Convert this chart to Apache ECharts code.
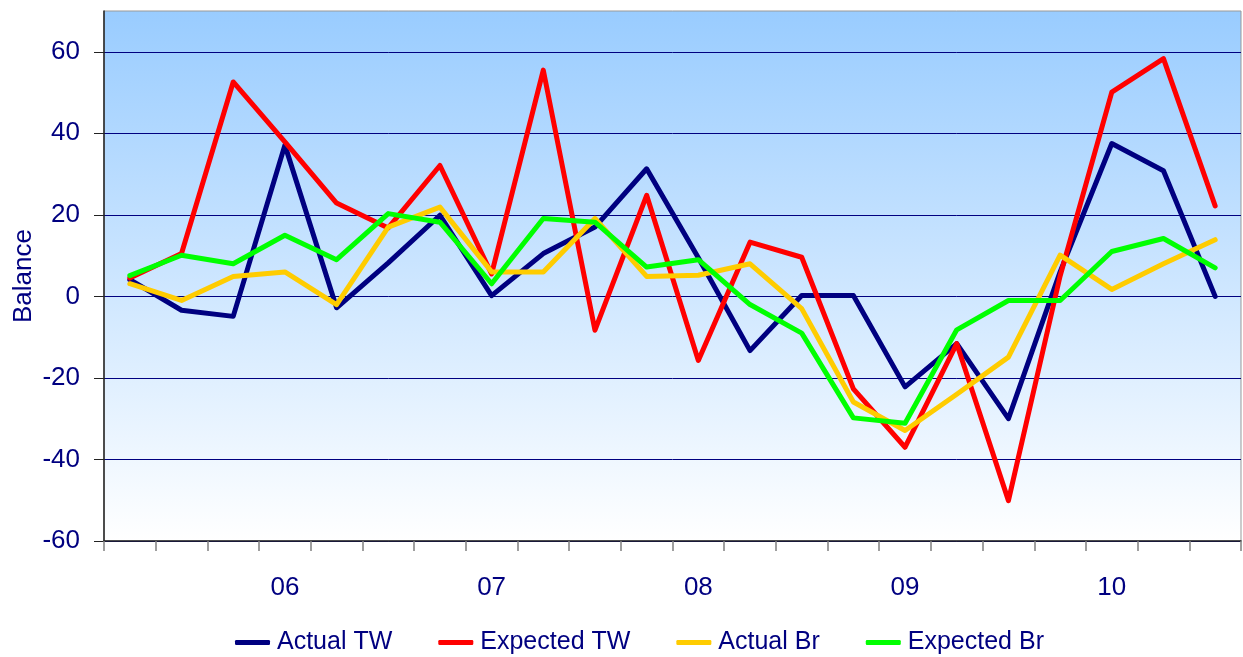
<!DOCTYPE html>
<html>
<head>
<meta charset="utf-8">
<script src="https://cdn.jsdelivr.net/npm/echarts@6/dist/echarts.min.js"></script>
<style>
html,body{margin:0;padding:0;background:#fff;}
#chart{width:1243px;height:657px;}
</style>
</head>
<body>
<div id="chart"></div>
<script>
// Quarterly categories (Q2 2005 .. Q3 2010); year label shown at Q1
const categories = ['Q2 05','Q3 05','Q4 05','Q1 06','Q2 06','Q3 06','Q4 06','Q1 07','Q2 07','Q3 07','Q4 07','Q1 08','Q2 08','Q3 08','Q4 08','Q1 09','Q2 09','Q3 09','Q4 09','Q1 10','Q2 10','Q3 10'];
const seriesNames = ['Actual TW','Expected TW','Actual Br','Expected Br'];
const actualTW   = [4.1, -3.4, -4.9, 37.1, -2.8, 8.2, 19.9, 0.2, 10.5, 17.0, 31.3, 9.5, -13.3, 0.2, 0.2, -22.2, -11.6, -30.0, 6.0, 37.5, 30.8, 0.0];
const expectedTW = [4.5, 10.5, 52.6, 37.9, 22.9, 16.8, 32.1, 5.5, 55.5, -8.3, 24.8, -15.7, 13.3, 9.6, -22.7, -37.0, -11.6, -50.1, 5.0, 50.1, 58.3, 22.2];
const actualBr   = [3.1, -1.0, 4.9, 6.0, -2.0, 17.0, 21.9, 6.0, 6.0, 19.1, 4.9, 5.2, 8.0, -3.0, -25.9, -32.9, -24.0, -14.9, 10.1, 1.7, 8.0, 13.9];
const expectedBr = [5.1, 10.1, 8.0, 15.0, 9.0, 20.3, 18.2, 3.1, 19.1, 18.2, 7.2, 9.0, -2.0, -9.0, -29.8, -31.1, -8.2, -1.0, -1.0, 11.0, 14.2, 7.0];
const yTickValues = [-60, -40, -20, 0, 20, 40, 60];
const colors = ['#000080', '#FF0000', '#FFCC00', '#00FF00'];

const FONT = "'Liberation Sans', Arial, sans-serif";
const TXT = '#000080';

const chart = echarts.init(document.getElementById('chart'), null, {renderer: 'canvas'});
const allData = [actualTW, expectedTW, actualBr, expectedBr];

chart.setOption({
  animation: false,
  color: colors,
  grid: {
    left: 104, right: 2, top: 11, bottom: 116,
    outerBoundsMode: 'none',
    containLabel: false,
    show: true,
    borderColor: '#999999', borderWidth: 1,
    backgroundColor: new echarts.graphic.LinearGradient(0, 0, 0, 1, [
      {offset: 0, color: '#99CCFF'},
      {offset: 1, color: '#FFFFFF'}
    ])
  },
  legend: {
    left: 230, top: 625,
    itemWidth: 35, itemHeight: 5, itemGap: 46,
    icon: 'roundRect',
    textStyle: {color: TXT, fontFamily: FONT, fontSize: 25, padding: [0, 0, 0, 2]},
    data: seriesNames
  },
  xAxis: {
    type: 'category',
    data: categories,
    boundaryGap: true,
    axisLine: {onZero: false, lineStyle: {color: '#222222', width: 1.5}},
    axisTick: {show: true, interval: 0, length: 10, lineStyle: {color: '#808080', width: 1.5}},
    axisLabel: {
      interval: 0,
      margin: 34,
      color: TXT, fontFamily: FONT, fontSize: 26,
      formatter: v => v.indexOf('Q1') === 0 ? v.slice(3) : ''
    },
    splitLine: {show: false}
  },
  yAxis: {
    type: 'value',
    min: -60, max: 70, interval: 20,
    name: 'Balance',
    nameLocation: 'middle',
    nameGap: 67,
    nameMoveOverlap: false,
    nameTextStyle: {color: TXT, fontFamily: FONT, fontSize: 26},
    axisLine: {show: true, lineStyle: {color: '#222222', width: 1.5}},
    axisTick: {show: true, length: 10, customValues: yTickValues, lineStyle: {color: '#222222', width: 1}},
    axisLabel: {customValues: yTickValues, margin: 24, color: TXT, fontFamily: FONT, fontSize: 26},
    splitLine: {show: true, lineStyle: {color: '#000080', width: 1}}
  },
  series: seriesNames.map((n, i) => ({
    name: n,
    type: 'line',
    data: allData[i],
    symbol: 'none',
    lineStyle: {width: 5, color: colors[i], cap: 'round', join: 'round'},
    itemStyle: {color: colors[i]}
  }))
});
</script>
</body>
</html>
